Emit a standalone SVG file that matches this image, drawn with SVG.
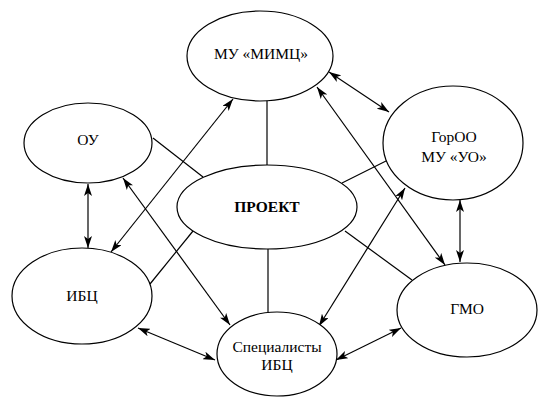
<svg xmlns="http://www.w3.org/2000/svg" width="550" height="400" viewBox="0 0 550 400">
<style>
.n ellipse{fill:#fff;stroke:#000;stroke-width:1.2}
text{font-family:'Liberation Serif','Times New Roman',serif;font-size:15.5px;fill:#000;text-anchor:middle}
#c line{stroke:#000;stroke-width:1.2;fill:none}
#c .a{marker-start:url(#ah);marker-end:url(#ah)}
</style>
<defs>
<marker id="ah" viewBox="0 0 12 8" refX="12" refY="4" markerWidth="12" markerHeight="8" markerUnits="userSpaceOnUse" orient="auto-start-reverse">
<path d="M0,0 L12,4 L0,8 L3,4 Z" fill="#000"/>
</marker>
</defs>
<rect width="550" height="400" fill="#fff"/>
<g id="c">
<line x1="267" y1="100" x2="267" y2="166"/>
<line x1="342" y1="183" x2="388" y2="160"/>
<line x1="153" y1="138" x2="203" y2="177"/>
<line x1="150" y1="284" x2="193" y2="231"/>
<line x1="268" y1="249" x2="268" y2="312"/>
<line x1="345" y1="231" x2="412" y2="280"/>
<line class="a" x1="329" y1="72" x2="389" y2="112"/>
<line class="a" x1="317" y1="87" x2="445" y2="265"/>
<line class="a" x1="233" y1="99" x2="111" y2="252"/>
<line class="a" x1="88" y1="184" x2="88" y2="248"/>
<line class="a" x1="123" y1="178" x2="230" y2="325"/>
<line class="a" x1="138" y1="328" x2="215" y2="360"/>
<line class="a" x1="405" y1="188" x2="319" y2="326"/>
<line class="a" x1="336" y1="360" x2="401" y2="328"/>
<line class="a" x1="460" y1="200" x2="460" y2="262"/>
</g>
<g id="mimc" class="n"><ellipse cx="260" cy="56" rx="73" ry="45"/><text x="261" y="59">МУ «МИМЦ»</text></g>
<g id="goroo" class="n"><ellipse cx="453" cy="143" rx="70" ry="57"/><text x="454" y="142">ГорОО</text><text x="454" y="162">МУ «УО»</text></g>
<g id="ou" class="n"><ellipse cx="88" cy="143" rx="64" ry="40"/><text x="88" y="145">ОУ</text></g>
<g id="proekt" class="n"><ellipse cx="267" cy="207" rx="90" ry="42"/><text x="267" y="212" font-weight="bold">ПРОЕКТ</text></g>
<g id="ibc" class="n"><ellipse cx="82" cy="296" rx="70" ry="48"/><text x="82" y="301">ИБЦ</text></g>
<g id="spec" class="n"><ellipse cx="277" cy="354" rx="60" ry="42"/><text x="277" y="352">Специалисты</text><text x="277" y="370">ИБЦ</text></g>
<g id="gmo" class="n"><ellipse cx="467" cy="310" rx="70" ry="47"/><text x="467" y="314">ГМО</text></g>
</svg>
